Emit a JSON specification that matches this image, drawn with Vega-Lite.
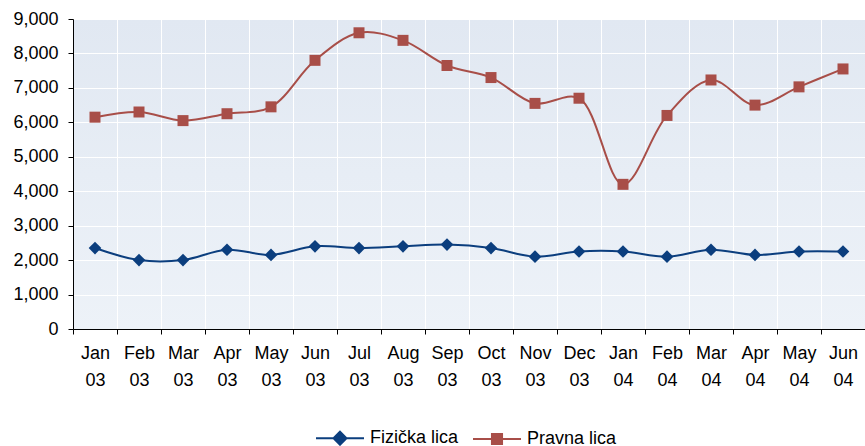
{
  "$schema": "https://vega.github.io/schema/vega-lite/v6.json",
  "width": 792,
  "height": 310,
  "autosize": "none",
  "padding": {"left": 73, "top": 19, "right": 0, "bottom": 117},
  "background": "white",
  "config": {
    "font": "Liberation Sans",
    "view": {
      "stroke": null,
      "fill": {"gradient": "linear", "x1": 0, "y1": 0, "x2": 0, "y2": 1,
        "stops": [{"offset": 0, "color": "#E1E8F2"}, {"offset": 1, "color": "#EDF2F8"}]}
    }
  },
  "data": {"values": [
    {"m": "Jan 03", "s": "Fizička lica", "v": 2350}, {"m": "Jan 03", "s": "Pravna lica", "v": 6150},
    {"m": "Feb 03", "s": "Fizička lica", "v": 2000}, {"m": "Feb 03", "s": "Pravna lica", "v": 6300},
    {"m": "Mar 03", "s": "Fizička lica", "v": 2000}, {"m": "Mar 03", "s": "Pravna lica", "v": 6050},
    {"m": "Apr 03", "s": "Fizička lica", "v": 2300}, {"m": "Apr 03", "s": "Pravna lica", "v": 6250},
    {"m": "May 03", "s": "Fizička lica", "v": 2150}, {"m": "May 03", "s": "Pravna lica", "v": 6450},
    {"m": "Jun 03", "s": "Fizička lica", "v": 2400}, {"m": "Jun 03", "s": "Pravna lica", "v": 7800},
    {"m": "Jul 03", "s": "Fizička lica", "v": 2350}, {"m": "Jul 03", "s": "Pravna lica", "v": 8600},
    {"m": "Aug 03", "s": "Fizička lica", "v": 2400}, {"m": "Aug 03", "s": "Pravna lica", "v": 8380},
    {"m": "Sep 03", "s": "Fizička lica", "v": 2450}, {"m": "Sep 03", "s": "Pravna lica", "v": 7650},
    {"m": "Oct 03", "s": "Fizička lica", "v": 2350}, {"m": "Oct 03", "s": "Pravna lica", "v": 7300},
    {"m": "Nov 03", "s": "Fizička lica", "v": 2100}, {"m": "Nov 03", "s": "Pravna lica", "v": 6550},
    {"m": "Dec 03", "s": "Fizička lica", "v": 2250}, {"m": "Dec 03", "s": "Pravna lica", "v": 6700},
    {"m": "Jan 04", "s": "Fizička lica", "v": 2250}, {"m": "Jan 04", "s": "Pravna lica", "v": 4200},
    {"m": "Feb 04", "s": "Fizička lica", "v": 2100}, {"m": "Feb 04", "s": "Pravna lica", "v": 6200},
    {"m": "Mar 04", "s": "Fizička lica", "v": 2300}, {"m": "Mar 04", "s": "Pravna lica", "v": 7230},
    {"m": "Apr 04", "s": "Fizička lica", "v": 2150}, {"m": "Apr 04", "s": "Pravna lica", "v": 6500},
    {"m": "May 04", "s": "Fizička lica", "v": 2250}, {"m": "May 04", "s": "Pravna lica", "v": 7030},
    {"m": "Jun 04", "s": "Fizička lica", "v": 2250}, {"m": "Jun 04", "s": "Pravna lica", "v": 7550}
  ]},
  "encoding": {
    "x": {"field": "m", "type": "ordinal", "sort": null,
      "scale": {"paddingInner": 0, "paddingOuter": 0},
      "axis": {"title": null, "labelAngle": 0, "tickBand": "extent", "labelExpr": "split(datum.label, ' ')",
        "labelFontSize": 18, "labelColor": "black", "labelLineHeight": 27, "labelPadding": 10,
        "domainColor": "black", "tickColor": "black", "tickSize": 5,
        "grid": true, "gridColor": "white", "gridWidth": 1}},
    "y": {"field": "v", "type": "quantitative",
      "scale": {"domain": [0, 9000], "nice": false},
      "axis": {"title": null, "values": [0, 1000, 2000, 3000, 4000, 5000, 6000, 7000, 8000, 9000], "format": ",d",
        "labelFontSize": 18, "labelColor": "black", "labelPadding": 10,
        "domainColor": "black", "tickColor": "black", "tickSize": 5,
        "grid": true, "gridColor": "white", "gridWidth": 1}},
    "color": {"field": "s", "type": "nominal",
      "scale": {"domain": ["Fizička lica", "Pravna lica"], "range": ["#0B3E7E", "#A84E48"]},
      "legend": {"orient": "none", "legendX": 242, "legendY": 394, "title": null, "direction": "horizontal",
        "labelFontSize": 18, "labelColor": "black", "symbolSize": 2304, "labelOffset": 5,
        "columnPadding": 10,
        "encode": {"symbols": {"update": {
          "shape": {"signal": "datum.value == 'Fizička lica' ? 'M-1,0H1M0,-0.27L0.27,0L0,0.27L-0.27,0Z' : 'M-1,0H1M-0.21,-0.21H0.21V0.21H-0.21Z'"},
          "fill": {"signal": "datum.value == 'Fizička lica' ? '#0B3E7E' : '#A84E48'"},
          "stroke": {"signal": "datum.value == 'Fizička lica' ? '#0B3E7E' : '#A84E48'"},
          "strokeWidth": {"value": 2},
          "size": {"value": 2304},
          "opacity": {"value": 1}
        }}}}}
  },
  "layer": [
    {"mark": {"type": "line", "interpolate": "catmull-rom", "strokeWidth": 2}},
    {"transform": [{"filter": "datum.s == 'Fizička lica'"}],
      "mark": {"type": "point", "shape": "diamond", "filled": true, "opacity": 1, "size": 160}},
    {"transform": [{"filter": "datum.s == 'Pravna lica'"}],
      "mark": {"type": "point", "shape": "square", "filled": true, "opacity": 1, "size": 121}}
  ]
}
